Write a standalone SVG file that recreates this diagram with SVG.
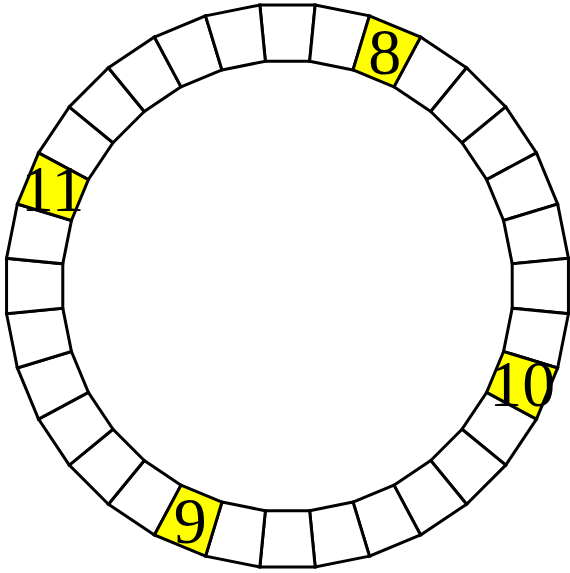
<svg xmlns="http://www.w3.org/2000/svg" xmlns:xlink="http://www.w3.org/1999/xlink" width="570" height="573" viewBox="0 0 570 573">
<style>
.cell{fill:#ffffff;stroke:#000000;stroke-width:3;stroke-linejoin:miter}
.hl{fill:#ffff00}
.lbl{font-family:"Liberation Serif","Times New Roman",serif;font-size:66px;fill:#000000;text-anchor:middle}
</style>
<defs>
<polygon id="seg" points="259.83,5.06 315.17,5.06 309.63,61.29 265.37,61.29"/>
</defs>
<rect x="0" y="0" width="570" height="573" fill="#ffffff"/>
<g id="ring">
<use id="cell-0" class="cell" xlink:href="#seg" href="#seg" transform="rotate(0 287.5 286)"/>
<use id="cell-1" class="cell" xlink:href="#seg" href="#seg" transform="rotate(11.25 287.5 286)"/>
<use id="cell-3" class="cell" xlink:href="#seg" href="#seg" transform="rotate(33.75 287.5 286)"/>
<use id="cell-4" class="cell" xlink:href="#seg" href="#seg" transform="rotate(45 287.5 286)"/>
<use id="cell-5" class="cell" xlink:href="#seg" href="#seg" transform="rotate(56.25 287.5 286)"/>
<use id="cell-6" class="cell" xlink:href="#seg" href="#seg" transform="rotate(67.5 287.5 286)"/>
<use id="cell-7" class="cell" xlink:href="#seg" href="#seg" transform="rotate(78.75 287.5 286)"/>
<use id="cell-8" class="cell" xlink:href="#seg" href="#seg" transform="rotate(90 287.5 286)"/>
<use id="cell-9" class="cell" xlink:href="#seg" href="#seg" transform="rotate(101.25 287.5 286)"/>
<use id="cell-11" class="cell" xlink:href="#seg" href="#seg" transform="rotate(123.75 287.5 286)"/>
<use id="cell-12" class="cell" xlink:href="#seg" href="#seg" transform="rotate(135 287.5 286)"/>
<use id="cell-13" class="cell" xlink:href="#seg" href="#seg" transform="rotate(146.25 287.5 286)"/>
<use id="cell-14" class="cell" xlink:href="#seg" href="#seg" transform="rotate(157.5 287.5 286)"/>
<use id="cell-15" class="cell" xlink:href="#seg" href="#seg" transform="rotate(168.75 287.5 286)"/>
<use id="cell-16" class="cell" xlink:href="#seg" href="#seg" transform="rotate(180 287.5 286)"/>
<use id="cell-17" class="cell" xlink:href="#seg" href="#seg" transform="rotate(191.25 287.5 286)"/>
<use id="cell-19" class="cell" xlink:href="#seg" href="#seg" transform="rotate(213.75 287.5 286)"/>
<use id="cell-20" class="cell" xlink:href="#seg" href="#seg" transform="rotate(225 287.5 286)"/>
<use id="cell-21" class="cell" xlink:href="#seg" href="#seg" transform="rotate(236.25 287.5 286)"/>
<use id="cell-22" class="cell" xlink:href="#seg" href="#seg" transform="rotate(247.5 287.5 286)"/>
<use id="cell-23" class="cell" xlink:href="#seg" href="#seg" transform="rotate(258.75 287.5 286)"/>
<use id="cell-24" class="cell" xlink:href="#seg" href="#seg" transform="rotate(270 287.5 286)"/>
<use id="cell-25" class="cell" xlink:href="#seg" href="#seg" transform="rotate(281.25 287.5 286)"/>
<use id="cell-27" class="cell" xlink:href="#seg" href="#seg" transform="rotate(303.75 287.5 286)"/>
<use id="cell-28" class="cell" xlink:href="#seg" href="#seg" transform="rotate(315 287.5 286)"/>
<use id="cell-29" class="cell" xlink:href="#seg" href="#seg" transform="rotate(326.25 287.5 286)"/>
<use id="cell-30" class="cell" xlink:href="#seg" href="#seg" transform="rotate(337.5 287.5 286)"/>
<use id="cell-31" class="cell" xlink:href="#seg" href="#seg" transform="rotate(348.75 287.5 286)"/>
</g>
<g id="node-8">
<use class="cell hl" xlink:href="#seg" href="#seg" transform="rotate(22.5 287.5 286)"/>
<text class="lbl" x="384.7" y="73.6">8</text>
</g>
<g id="node-10">
<use class="cell hl" xlink:href="#seg" href="#seg" transform="rotate(112.5 287.5 286)"/>
<text class="lbl" x="522.2" y="405.5">10</text>
</g>
<g id="node-9">
<use class="cell hl" xlink:href="#seg" href="#seg" transform="rotate(202.5 287.5 286)"/>
<text class="lbl" x="190.3" y="543">9</text>
</g>
<g id="node-11">
<use class="cell hl" xlink:href="#seg" href="#seg" transform="rotate(292.5 287.5 286)"/>
<text class="lbl" x="52.8" y="211.1">11</text>
</g>
<g id="connectors"/>
</svg>
